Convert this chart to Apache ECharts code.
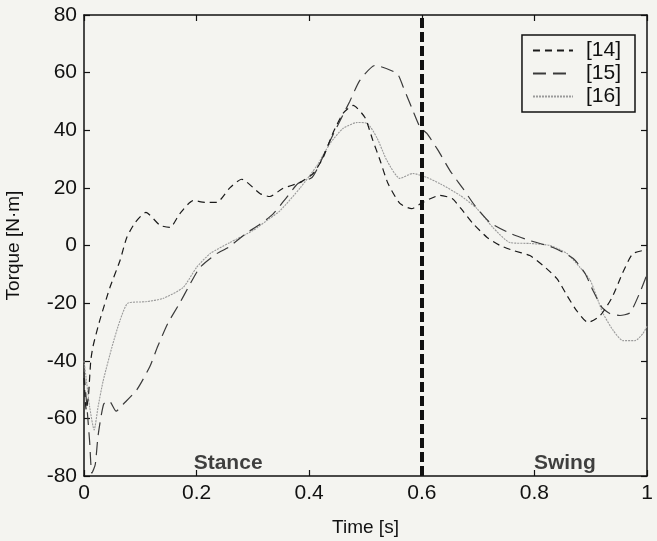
<!DOCTYPE html>
<html>
<head>
<meta charset="utf-8">
<script src="https://cdn.jsdelivr.net/npm/echarts@6/dist/echarts.min.js"></script>
<style>
  html, body { margin: 0; padding: 0; background: #f4f4f0; }
  #chart { width: 657px; height: 541px; }
</style>
</head>
<body>
<div id="chart"></div>
<script>
// Knee torque over one gait cycle, three sources

const FONT = '"Liberation Sans", Arial, sans-serif';

const xTicks = [0, 0.2, 0.4, 0.6, 0.8, 1];
const yTicks = [-80, -60, -40, -20, 0, 20, 40, 60, 80];

const names = ['[14]', '[15]', '[16]'];

const t14 = [0, 0.004, 0.008, 0.012, 0.016, 0.028, 0.046, 0.064, 0.076, 0.091, 0.11, 0.135, 0.153, 0.17, 0.194, 0.215, 0.236, 0.259, 0.28, 0.313, 0.33, 0.353, 0.384, 0.407, 0.425, 0.442, 0.46, 0.478, 0.499, 0.513, 0.526, 0.54, 0.561, 0.582, 0.602, 0.632, 0.654, 0.673, 0.691, 0.716, 0.739, 0.762, 0.792, 0.815, 0.84, 0.858, 0.875, 0.895, 0.917, 0.938, 0.957, 0.975, 1.0];
const v14 = [-46, -57, -52, -40, -35, -26, -14.6, -5.2, 2.8, 8, 11.5, 7, 6.3, 11, 15.6, 15, 15, 20, 23, 18, 17, 19.8, 21.9, 25, 30.6, 39, 45.8, 48.6, 44.4, 36.5, 29.5, 21.5, 14.6, 12.8, 15, 17.4, 16.3, 12, 7.6, 2.8, 0, -1.7, -3.5, -6.9, -11.5, -17.4, -22.6, -26.7, -24.3, -18, -9.4, -2.8, -1.5];

const t15 = [0, 0.006, 0.01, 0.014, 0.02, 0.025, 0.035, 0.045, 0.057, 0.07, 0.094, 0.117, 0.131, 0.149, 0.17, 0.185, 0.206, 0.236, 0.256, 0.29, 0.31, 0.336, 0.36, 0.38, 0.405, 0.419, 0.433, 0.455, 0.472, 0.49, 0.517, 0.556, 0.567, 0.584, 0.597, 0.609, 0.629, 0.65, 0.673, 0.694, 0.721, 0.757, 0.792, 0.833, 0.869, 0.89, 0.904, 0.92, 0.934, 0.952, 0.97, 0.988, 1.0];
const v15 = [-44, -58, -68, -79, -76, -66, -55, -54, -57.5, -55, -50, -42, -35, -27, -20, -14.6, -7.6, -2.8, -0.7, 4.5, 7, 11, 16.7, 21.5, 23.6, 28.5, 34.7, 43.4, 50, 57.3, 62.5, 59.7, 55, 46.9, 41, 38.9, 33, 26, 19.8, 13.9, 8, 4.2, 1.7, -0.7, -4.5, -9.7, -15.6, -21.5, -23.6, -24.3, -23.3, -16, -10];

const t16 = [0, 0.005, 0.01, 0.018, 0.025, 0.034, 0.05, 0.064, 0.078, 0.11, 0.14, 0.176, 0.2, 0.224, 0.259, 0.3, 0.33, 0.348, 0.384, 0.414, 0.437, 0.46, 0.485, 0.503, 0.52, 0.538, 0.561, 0.584, 0.609, 0.632, 0.668, 0.698, 0.726, 0.757, 0.792, 0.828, 0.858, 0.881, 0.899, 0.911, 0.922, 0.94, 0.957, 0.979, 0.993, 1.0];
const v16 = [-40, -48, -56, -64, -56, -47, -35, -26, -20, -19.5, -18.4, -14.6, -7.6, -2.8, 1, 5.2, 9.4, 12, 20, 27.8, 35.4, 40.6, 42.7, 42.4, 37.5, 29.5, 23.3, 25, 23.6, 21.5, 17.4, 12.8, 6.3, 1, 0.7, 0, -2.8, -7.6, -12, -18, -23.6, -29.5, -33, -33, -30.5, -28];

// stance / swing boundary and phase labels
const toeOff = 0.6;
const phaseNames = ['Stance', 'Swing'];
const phaseX = [0.256, 0.854];
const phaseY = -75.5;

const STYLES = [
  { color: '#1a1a1a', type: [7, 5], width: 1.2 },
  { color: '#3a3a3a', type: [13, 7], width: 1.2 },
  { color: '#9a9a9a', type: [2, 1], width: 1.1 },
];

const chart = echarts.init(document.getElementById('chart'), null, { renderer: 'canvas' });

function zip(ts, vs) {
  return ts.map((t, i) => [t, vs[i]]);
}

const axisCommon = {
  axisLine: { show: true, onZero: false, lineStyle: { color: '#111', width: 1.5 } },
  axisTick: { show: true, inside: true, length: 6, lineStyle: { color: '#111', width: 1.2 } },
  splitLine: { show: false },
};

const lineSeries = [[t14, v14], [t15, v15], [t16, v16]].map(([ts, vs], i) => ({
  name: names[i],
  type: 'line',
  symbol: 'none',
  smooth: 0.2,
  color: STYLES[i].color,
  lineStyle: STYLES[i],
  data: zip(ts, vs),
  z: 3 - i,
}));

lineSeries[0].markLine = {
  silent: true,
  symbol: 'none',
  label: { show: false },
  lineStyle: { color: '#111', type: [10, 4], width: 4 },
  data: [{ xAxis: toeOff }],
};

chart.setOption({
  backgroundColor: '#f4f4f0',
  animation: false,
  textStyle: { fontFamily: FONT },
  grid: { left: 84, right: 10, top: 15, bottom: 65, show: false, outerBoundsMode: 'none', containLabel: false },
  legend: {
    data: names,
    orient: 'vertical',
    right: 22,
    top: 35,
    itemWidth: 40,
    itemHeight: 10,
    itemGap: 2,
    padding: [5, 14, 5, 10],
    borderColor: '#111',
    borderWidth: 1.5,
    backgroundColor: '#f4f4f0',
    itemStyle: { opacity: 0 },
    textStyle: { fontSize: 21, color: '#111', fontFamily: FONT, padding: [0, 0, 0, 8] },
  },
  xAxis: [
    {
      ...axisCommon,
      type: 'value', min: 0, max: 1, interval: 0.2,
      position: 'bottom',
      name: 'Time [s]', nameLocation: 'middle', nameGap: 42,
      nameTextStyle: { fontSize: 19, color: '#111', fontFamily: FONT },
      axisLabel: {
        fontSize: 21, color: '#111', margin: 7, fontFamily: FONT,
        formatter: v => (xTicks.includes(+v.toFixed(1)) ? String(+v.toFixed(1)) : ''),
      },
    },
    {
      ...axisCommon,
      type: 'value', min: 0, max: 1, interval: 0.2,
      position: 'top',
      axisLabel: { show: false },
    },
  ],
  yAxis: [
    {
      ...axisCommon,
      type: 'value', min: -80, max: 80, interval: 20,
      position: 'left',
      name: 'Torque [N·m]', nameLocation: 'middle', nameGap: 61,
      nameTextStyle: { fontSize: 19, color: '#111', fontFamily: FONT },
      axisLabel: {
        fontSize: 21, color: '#111', margin: 7, fontFamily: FONT,
        formatter: v => (yTicks.includes(v) ? String(v) : ''),
      },
    },
    {
      ...axisCommon,
      type: 'value', min: -80, max: 80, interval: 20,
      position: 'right',
      axisLabel: { show: false },
    },
  ],
  series: [
    ...lineSeries,
    {
      type: 'scatter',
      symbolSize: 0,
      silent: true,
      data: phaseNames.map((n, i) => ({ name: n, value: [phaseX[i], phaseY] })),
      label: {
        show: true, position: 'inside',
        formatter: p => p.name,
        fontSize: 21, fontWeight: 'bold', color: '#111', fontFamily: FONT,
      },
    },
  ],
});
</script>
</body>
</html>
